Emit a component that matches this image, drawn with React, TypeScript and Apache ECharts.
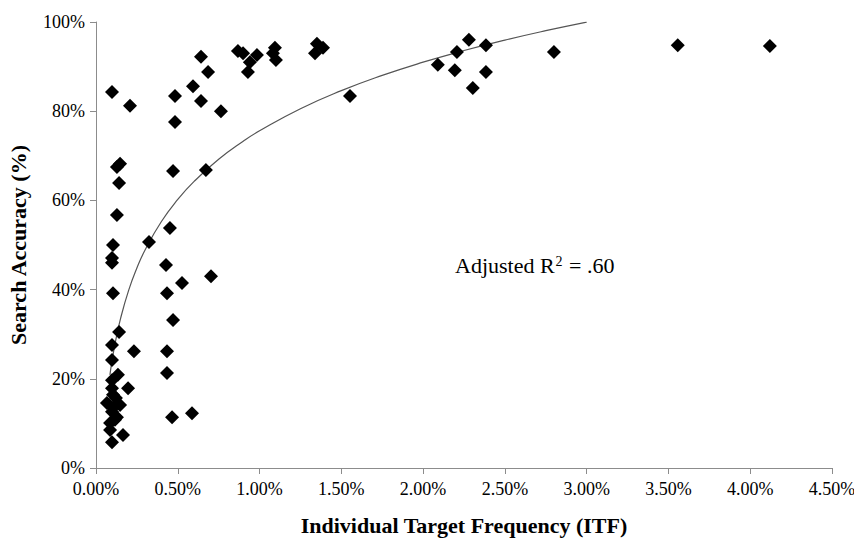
import React, { useEffect, useRef } from "react";
import * as echarts from "echarts";

// Individual Target Frequency (%) and Search Accuracy (%)
const itf: number[] = [
  0.098, 0.208, 0.147, 0.128, 0.141, 0.128, 0.104, 0.098, 0.098, 0.104,
  0.324, 0.452, 0.428, 0.434, 0.526, 0.703, 0.471, 0.141, 0.098, 0.232,
  0.434, 0.098, 0.434, 0.134, 0.098, 0.196, 0.098, 0.104, 0.067, 0.147,
  0.098, 0.128, 0.116, 0.086, 0.165, 0.098, 0.465, 0.587, 0.104, 0.122,
  0.086, 0.483, 0.483, 0.471, 0.672, 0.593, 0.642, 0.642, 0.685, 0.764,
  0.868, 0.899, 0.941, 0.929, 0.984, 1.094, 1.082, 1.1, 1.351, 1.388,
  1.339, 1.553, 2.09, 2.194, 2.207, 2.28, 2.384, 2.384, 2.304, 2.8,
  3.557, 4.12,
];
const accuracy: number[] = [
  84.3, 81.2, 68.2, 67.5, 63.9, 56.7, 50.0, 47.1, 46.0, 39.2,
  50.7, 53.8, 45.5, 39.2, 41.5, 43.0, 33.2, 30.5, 27.6, 26.2,
  26.2, 24.2, 21.3, 20.9, 19.7, 17.9, 17.9, 16.4, 14.6, 14.1,
  12.6, 11.4, 10.8, 8.5, 7.4, 5.8, 11.4, 12.3, 13.5, 15.7,
  10.1, 83.4, 77.6, 66.6, 66.8, 85.6, 82.3, 92.2, 88.8, 80.0,
  93.5, 93.0, 91.0, 88.8, 92.6, 94.2, 93.0, 91.5, 95.1, 94.2,
  93.0, 83.4, 90.4, 89.2, 93.3, 96.0, 94.8, 88.8, 85.2, 93.3,
  94.8, 94.6,
];

// logarithmic trend line: y = a*ln(x) + b, drawn over this x range
const trendA = 22.2;
const trendB = 75.6;
const trendXs: number[] = [
  0.085, 0.1, 0.12, 0.15, 0.2, 0.25, 0.3, 0.4, 0.5, 0.6, 0.75, 0.9, 1.0,
  1.25, 1.5, 1.75, 2.0, 2.25, 2.5, 2.75, 3.0,
];

const xTicks = { min: 0, max: 4.5, interval: 0.5 };
const yTicks = { min: 0, max: 100, interval: 20 };

export default function App() {
  const ref = useRef<HTMLDivElement>(null);
  useEffect(() => {
    if (!ref.current) return;
    const chart = echarts.init(ref.current, null, { renderer: "svg" });
    const scatter = itf.map((x, i) => [x, accuracy[i]]);
    const trend = trendXs.map((x) => [x, trendA * Math.log(x) + trendB]);
    const font = "'Liberation Serif', 'Times New Roman', serif";
    chart.setOption({
      animation: false,
      backgroundColor: "#ffffff",
      grid: {
        left: 96,
        right: 22,
        top: 22,
        bottom: 71,
        containLabel: false,
        outerBoundsMode: "none",
      },
      xAxis: {
        type: "value",
        ...xTicks,
        name: "Individual Target Frequency (ITF)",
        nameLocation: "middle",
        nameGap: 46,
        nameTextStyle: { fontFamily: font, fontSize: 22, fontWeight: "bold", color: "#000" },
        axisLine: { show: true, lineStyle: { color: "#8c8c8c", width: 1 } },
        axisTick: { show: true, length: 6, lineStyle: { color: "#8c8c8c" } },
        splitLine: { show: false },
        axisLabel: {
          fontFamily: font,
          fontSize: 18,
          color: "#000",
          margin: 12,
          formatter: (v: number) => v.toFixed(2) + "%",
        },
      },
      yAxis: {
        type: "value",
        ...yTicks,
        name: "Search Accuracy (%)",
        nameLocation: "middle",
        nameGap: 67,
        nameRotate: 90,
        nameTextStyle: { fontFamily: font, fontSize: 22, fontWeight: "bold", color: "#000" },
        axisLine: { show: true, lineStyle: { color: "#8c8c8c", width: 1 } },
        axisTick: { show: true, length: 6, lineStyle: { color: "#8c8c8c" } },
        splitLine: { show: false },
        axisLabel: {
          fontFamily: font,
          fontSize: 18,
          color: "#000",
          margin: 11,
          formatter: (v: number) => v + "%",
        },
      },
      series: [
        {
          type: "line",
          data: trend,
          smooth: true,
          symbol: "none",
          lineStyle: { color: "#555", width: 1.2 },
          z: 1,
        },
        {
          type: "scatter",
          data: scatter,
          symbol: "diamond",
          symbolSize: 14,
          itemStyle: { color: "#000", opacity: 1 },
          z: 2,
        },
      ],
      graphic: [
        {
          type: "text",
          left: 455,
          top: 254,
          style: {
            text: "Adjusted R{sup|2} = .60",
            fontFamily: font,
            fontSize: 22,
            fill: "#000",
            rich: {
              sup: { fontFamily: font, fontSize: 14, verticalAlign: "top", padding: [0, 1, 8, 1], fill: "#000" },
            },
          },
        },
      ],
    });
    return () => chart.dispose();
  }, []);
  return (
    <div
      ref={ref}
      style={{ position: "fixed", left: 0, top: 0, width: 854, height: 539 }}
    />
  );
}
